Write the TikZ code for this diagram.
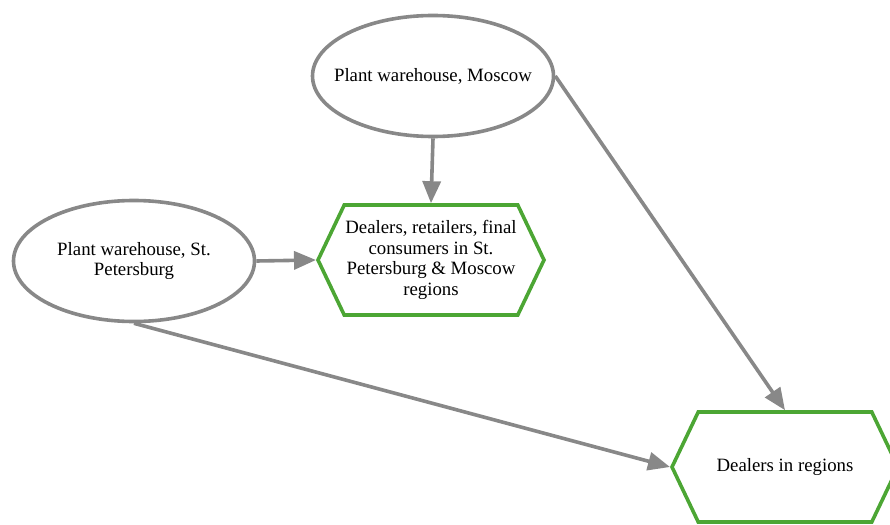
\documentclass[tikz,border=0pt]{standalone}
\usepackage{fontspec}
\setmainfont{Liberation Serif}
\usetikzlibrary{shapes.geometric,shapes.symbols,arrows.meta}
\definecolor{gris}{RGB}{136,136,136}
\definecolor{verde}{RGB}{76,166,52}
\begin{document}
\begin{tikzpicture}[x=1pt, y=-1pt,
    every node/.style={font=\fontsize{18.8}{20.5}\selectfont, align=center},
    almacen/.style={ellipse, draw=gris, line width=3.6pt, minimum width=241pt, minimum height=121pt, inner sep=-16pt},
    destino/.style={signal, signal to=west and east, signal pointer angle=129, draw=verde, line width=3.6pt,
        minimum width=226pt, minimum height=110pt, inner sep=0pt},
    flecha/.style={-{Triangle[length=22pt, width=18pt]}, draw=gris, line width=3.6pt}]
    \useasboundingbox (0,0) rectangle (890,524);
    % Almacenes de planta
    \node[almacen] (moscu) at (433,76) {Plant warehouse, Moscow};
    \node[almacen] (spb) at (134,261) {Plant warehouse, St.\\Petersburg};
    % Destinos
    \node[destino] (locales) at (431,260) {Dealers, retailers, final\\consumers in St.\\Petersburg \& Moscow\\regions};
    \node[destino] (regiones) at (785,467) {Dealers in regions};
    % Flechas
    \draw[flecha] (moscu.south) -- (locales.north);
    \draw[flecha] (spb.east) -- (locales.west);
    \draw[flecha] (moscu.east) -- (regiones.north);
    \draw[flecha] (spb.south) -- (regiones.west);
\end{tikzpicture}
\end{document}
